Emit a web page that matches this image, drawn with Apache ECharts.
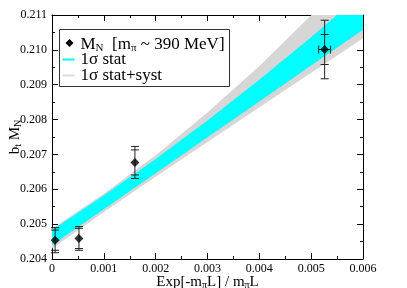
<!DOCTYPE html>
<html>
<head>
<meta charset="utf-8">
<script src="https://cdn.jsdelivr.net/npm/echarts@6/dist/echarts.min.js"></script>
<style>html,body{margin:0;padding:0;background:#fff}#c{width:407px;height:288px}</style>
</head>
<body>
<div id="c"></div>
<script>
// ---- data ----
const xTickLabels = ['0', '0.001', '0.002', '0.003', '0.004', '0.005', '0.006'];
const yTickLabels = ['0.204', '0.205', '0.206', '0.207', '0.208', '0.209', '0.210', '0.211'];

const ptX = [0.00006, 0.00052, 0.0016, 0.00526];
const ptY = [0.20454, 0.20459, 0.20677, 0.21001];
const statErr = [0.00029, 0.00029, 0.00036, 0.00043];
const totErr = [0.00036, 0.00034, 0.00046, 0.00084];
const xErr = [0, 0, 0, 0.000115];

const bandX = [0, 0.001, 0.002, 0.003, 0.004, 0.005, 0.006];
const statLow = [0.20440, 0.20543, 0.20646, 0.20749, 0.20852, 0.20955, 0.21058];
const statHigh = [0.20483, 0.20582, 0.20687, 0.20797, 0.20914, 0.21036, 0.21165];
const totLow = [0.20430, 0.20535, 0.20636, 0.20736, 0.20835, 0.20934, 0.21033];
const totHigh = [0.20487, 0.20587, 0.20698, 0.20820, 0.20954, 0.21099, 0.21253];

const legendNames = ['{a|M}{s|N}{a|  [m}{s|π}{a| ~ 390 MeV]}', '1σ stat', '1σ stat+syst'];

// ---- chart ----
const FONT = 'Liberation Serif';
const chart = echarts.init(document.getElementById('c'), null, {renderer: 'canvas'});

const points = ptX.map((x, i) => [x, ptY[i], statErr[i], totErr[i], xErr[i]]);

function bandPoly(api, lo, hi, color) {
  const pts = [];
  for (let i = 0; i < bandX.length; i++) pts.push(api.coord([bandX[i], hi[i]]));
  for (let i = bandX.length - 1; i >= 0; i--) pts.push(api.coord([bandX[i], lo[i]]));
  return {type: 'polygon', shape: {points: pts}, style: {fill: color, stroke: null}};
}

const axisCommon = {
  type: 'value',
  axisLine: {show: true, onZero: false, lineStyle: {color: '#000', width: 1}},
  axisTick: {show: true, inside: true, length: 6, lineStyle: {color: '#000'}},
  minorTick: {show: true, splitNumber: 2, length: 3, lineStyle: {color: '#000'}},
  splitLine: {show: false},
  minorSplitLine: {show: false}
};

const richSub = {
  a: {fontFamily: FONT, fontSize: 15, lineHeight: 18, verticalAlign: 'bottom', color: '#000'},
  s: {fontFamily: FONT, fontSize: 10, lineHeight: 10, verticalAlign: 'bottom', color: '#000'}
};

const option = {
  animation: false,
  backgroundColor: '#fff',
  grid: {left: 52, right: 44, top: 15, bottom: 29, containLabel: false, outerBoundsMode: 'none'},
  xAxis: [
    Object.assign({}, axisCommon, {
      position: 'bottom', min: 0, max: 0.006, interval: 0.001,
      axisLabel: {
        margin: 4, color: '#000', fontFamily: FONT, fontSize: 12,
        formatter: v => xTickLabels[Math.round(v / 0.001)]
      },
      name: '{a|Exp[-m}{s|π}{a|L] / m}{s|π}{a|L}',
      nameLocation: 'middle', nameGap: 13, nameMoveOverlap: false,
      nameTextStyle: {rich: richSub}
    }),
    Object.assign({}, axisCommon, {
      position: 'top', min: 0, max: 0.006, interval: 0.001,
      axisLabel: {show: false}
    })
  ],
  yAxis: [
    Object.assign({}, axisCommon, {
      position: 'left', min: 0.204, max: 0.211, interval: 0.001,
      axisLabel: {
        margin: 5, color: '#000', fontFamily: FONT, fontSize: 12,
        formatter: v => yTickLabels[Math.round((v - 0.204) / 0.001)]
      },
      name: '{a|b}{s|t}{a| M}{s|N}',
      nameLocation: 'middle', nameGap: 29, nameRotate: 90, nameMoveOverlap: false,
      nameTextStyle: {rich: richSub}
    }),
    Object.assign({}, axisCommon, {
      position: 'right', min: 0.204, max: 0.211, interval: 0.001,
      axisLabel: {show: false}
    })
  ],
  series: [
    {
      type: 'custom',
      name: 'bands',
      xAxisIndex: 0, yAxisIndex: 0,
      clip: true,
      data: [[0.003, 0.2075]],
      encode: {x: 0, y: 1},
      silent: true,
      z: 1,
      renderItem: function (params, api) {
        return {
          type: 'group',
          children: [
            bandPoly(api, totLow, totHigh, '#d6d6d6'),
            bandPoly(api, statLow, statHigh, '#00ffff')
          ]
        };
      }
    },
    {
      type: 'custom',
      name: 'errors',
      xAxisIndex: 0, yAxisIndex: 0,
      data: points,
      encode: {x: 0, y: 1},
      z: 3,
      renderItem: function (params, api) {
        const x = api.value(0), y = api.value(1);
        const se = api.value(2), te = api.value(3), xe = api.value(4);
        const c = api.coord([x, y]);
        const tHi = api.coord([x, y + te]), tLo = api.coord([x, y - te]);
        const sHi = api.coord([x, y + se]), sLo = api.coord([x, y - se]);
        const st = {stroke: '#222', lineWidth: 1};
        const w = 4;
        const kids = [
          {type: 'line', shape: {x1: c[0], y1: tHi[1], x2: c[0], y2: tLo[1]}, style: st},
          {type: 'line', shape: {x1: c[0] - w, y1: tHi[1], x2: c[0] + w, y2: tHi[1]}, style: st},
          {type: 'line', shape: {x1: c[0] - w, y1: tLo[1], x2: c[0] + w, y2: tLo[1]}, style: st},
          {type: 'line', shape: {x1: c[0] - w, y1: sHi[1], x2: c[0] + w, y2: sHi[1]}, style: st},
          {type: 'line', shape: {x1: c[0] - w, y1: sLo[1], x2: c[0] + w, y2: sLo[1]}, style: st}
        ];
        if (xe > 0) {
          const l = api.coord([x - xe, y]), r = api.coord([x + xe, y]);
          kids.push({type: 'line', shape: {x1: l[0], y1: c[1], x2: r[0], y2: c[1]}, style: st});
          kids.push({type: 'line', shape: {x1: l[0], y1: c[1] - w, x2: l[0], y2: c[1] + w}, style: st});
          kids.push({type: 'line', shape: {x1: r[0], y1: c[1] - w, x2: r[0], y2: c[1] + w}, style: st});
        }
        return {type: 'group', children: kids};
      }
    },
    {
      type: 'scatter',
      name: 'M_N',
      xAxisIndex: 0, yAxisIndex: 0,
      data: ptX.map((x, i) => [x, ptY[i]]),
      symbol: 'diamond',
      symbolSize: 9,
      itemStyle: {color: '#000'},
      z: 4
    }
  ],
  graphic: [{
    type: 'group',
    x: 59.5, y: 29.5,
    z: 100,
    children: [
      {type: 'rect', shape: {x: 0, y: 0, width: 170, height: 57},
        style: {fill: '#fff', stroke: '#333', lineWidth: 1}},
      {type: 'polygon', shape: {points: [[10, 9.5], [14, 13.5], [10, 17.5], [6, 13.5]]}, style: {fill: '#000'}},
      {type: 'text', x: 21, y: 14, style: {
        text: legendNames[0], verticalAlign: 'middle',
        rich: {
          a: {fontFamily: FONT, fontSize: 17, lineHeight: 20, verticalAlign: 'bottom', fill: '#000'},
          s: {fontFamily: FONT, fontSize: 11, lineHeight: 11, verticalAlign: 'bottom', fill: '#000'}
        }
      }},
      {type: 'line', shape: {x1: 3, y1: 30, x2: 15, y2: 30}, style: {stroke: '#00ffff', lineWidth: 2}},
      {type: 'text', x: 21, y: 30.5, style: {text: legendNames[1], fontFamily: FONT, fontSize: 17, fill: '#000', verticalAlign: 'middle'}},
      {type: 'line', shape: {x1: 3, y1: 46, x2: 15, y2: 46}, style: {stroke: '#dcdcdc', lineWidth: 2}},
      {type: 'text', x: 21, y: 46.5, style: {text: legendNames[2], fontFamily: FONT, fontSize: 17, fill: '#000', verticalAlign: 'middle'}}
    ]
  }]
};
chart.setOption(option);
</script>
</body>
</html>
